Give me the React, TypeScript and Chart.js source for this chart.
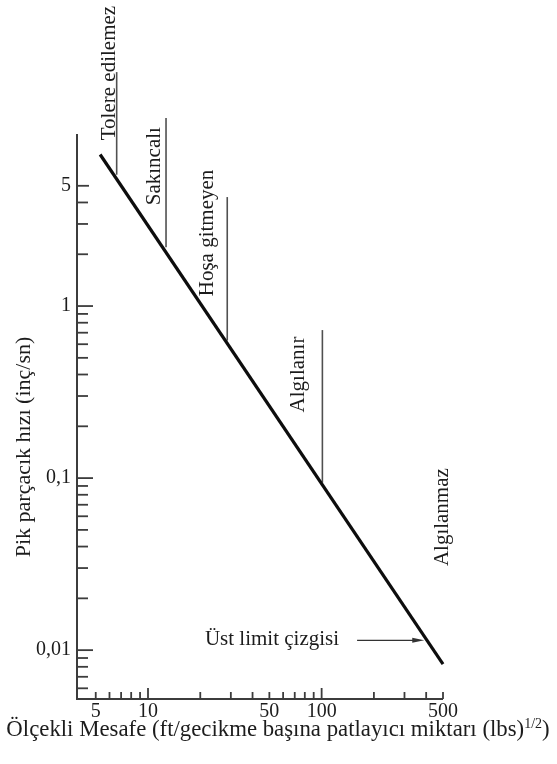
import { useEffect, useRef } from 'react';
import { Chart, registerables } from 'chart.js';

Chart.register(...registerables);

const SERIF = '"Liberation Serif", "Times New Roman", serif';
const INK = '#1c1c1c';
const AXIS = '#3c3c3c';
const MARKER = '#505050';

// Upper limit line: scaled distance vs. peak particle velocity
const limitX = [5.3, 500];
const limitY = [7.6, 0.0083];

// Threshold markers rising from the limit line
const zoneNames = ['Tolere edilemez', 'Sakıncalı', 'Hoşa gitmeyen', 'Algılanır'];
const zoneX = [6.6, 12.7, 28.6, 101];
const zoneBottom = [5.8, 2.2, 0.63, 0.094];
const zoneTop = [22.9, 12.4, 4.3, 0.725];
// text anchors: x = baseline of the rotated text, y = centre of the text
const zoneLabelX = [6.45, 11.7, 23.7, 79.3];
const zoneLabelY = [22.6, 6.5, 2.66, 0.4];

const belowName = 'Algılanmaz';
const belowLabelX = 535;
const belowLabelY = 0.0593;

const arrowName = 'Üst limit çizgisi';
const arrowFromX = 160;
const arrowToX = 390;
const arrowY = 0.0114;

// Axis ticks
const xTickValues = [5, 10, 50, 100, 500];
const xTickLabels = ['5', '10', '50', '100', '500'];
const yTickValues = [0.01, 0.1, 1, 5];
const yTickLabels = ['0,01', '0,1', '1', '5'];
const xMinorMarks = [5, 6, 7, 8, 9, 20, 30, 40, 50, 60, 70, 80, 90, 200, 300, 400, 500];
const xMajorMarks = [10, 100];
const yMinorMarks = [
  0.006, 0.007, 0.008, 0.009,
  0.02, 0.03, 0.04, 0.05, 0.06, 0.07, 0.08, 0.09,
  0.2, 0.3, 0.4, 0.5, 0.6, 0.7, 0.8, 0.9,
  2, 3, 4,
];
const yMidMarks = [5];
const yMajorMarks = [0.01, 0.1, 1];

const xRange = [3.9, 500];
const yRange = [0.0052, 10];

const yTitle = 'Pik parçacık hızı (inç/sn)';
const xTitleMain = 'Ölçekli Mesafe (ft/gecikme başına patlayıcı miktarı (lbs)';
const xTitleSup = '1/2';
const xTitleTail = ')';

const decorations = {
  id: 'decorations',
  afterDraw(chart: any) {
    const { ctx, chartArea: a, scales } = chart;
    const px = (v: number) => scales.x.getPixelForValue(v);
    const py = (v: number) => scales.y.getPixelForValue(v);
    ctx.save();

    // axis lines
    ctx.strokeStyle = AXIS;
    ctx.lineWidth = 2;
    ctx.beginPath();
    ctx.moveTo(a.left, a.top);
    ctx.lineTo(a.left, a.bottom);
    ctx.lineTo(px(xRange[1]), a.bottom);
    ctx.stroke();

    // inward tick marks
    ctx.lineWidth = 1.8;
    const xTick = (v: number, len: number) => {
      const x = px(v);
      ctx.beginPath();
      ctx.moveTo(x, a.bottom);
      ctx.lineTo(x, a.bottom - len);
      ctx.stroke();
    };
    const yTick = (v: number, len: number) => {
      const y = py(v);
      ctx.beginPath();
      ctx.moveTo(a.left, y);
      ctx.lineTo(a.left + len, y);
      ctx.stroke();
    };
    xMinorMarks.forEach((v) => xTick(v, 7));
    xMajorMarks.forEach((v) => xTick(v, 11));
    yMinorMarks.forEach((v) => yTick(v, 11));
    yMidMarks.forEach((v) => yTick(v, 12));
    yMajorMarks.forEach((v) => yTick(v, 16));

    // rotated zone labels
    ctx.fillStyle = INK;
    const rotated = (text: string, x: number, y: number, size: number) => {
      ctx.save();
      ctx.translate(x, y);
      ctx.rotate(-Math.PI / 2);
      ctx.font = `${size}px ${SERIF}`;
      ctx.textAlign = 'center';
      ctx.textBaseline = 'alphabetic';
      ctx.fillText(text, 0, 0);
      ctx.restore();
    };
    zoneNames.forEach((n, i) => rotated(n, px(zoneLabelX[i]), py(zoneLabelY[i]), 21));
    rotated(belowName, px(belowLabelX), py(belowLabelY), 21);

    // upper limit pointer
    const ay = py(arrowY);
    const ax0 = px(arrowFromX);
    const ax1 = px(arrowToX);
    ctx.strokeStyle = '#333';
    ctx.lineWidth = 1.2;
    ctx.beginPath();
    ctx.moveTo(ax0, ay);
    ctx.lineTo(ax1 - 6, ay);
    ctx.stroke();
    ctx.fillStyle = '#333';
    ctx.beginPath();
    ctx.moveTo(ax1, ay);
    ctx.lineTo(ax1 - 12, ay - 2.5);
    ctx.lineTo(ax1 - 12, ay + 2.5);
    ctx.closePath();
    ctx.fill();
    ctx.fillStyle = INK;
    ctx.font = `21px ${SERIF}`;
    ctx.textAlign = 'right';
    ctx.textBaseline = 'alphabetic';
    ctx.fillText(arrowName, ax0 - 18, ay + 5);

    // axis titles
    ctx.save();
    ctx.translate(24, 447);
    ctx.rotate(-Math.PI / 2);
    ctx.font = `22px ${SERIF}`;
    ctx.textAlign = 'center';
    ctx.textBaseline = 'middle';
    ctx.fillText(yTitle, 0, 0);
    ctx.restore();

    const titleSize = 22.8;
    ctx.textAlign = 'left';
    ctx.textBaseline = 'alphabetic';
    ctx.font = `${titleSize}px ${SERIF}`;
    const wMain = ctx.measureText(xTitleMain).width;
    const wTail = ctx.measureText(xTitleTail).width;
    ctx.font = `14px ${SERIF}`;
    const wSup = ctx.measureText(xTitleSup).width;
    const total = wMain + wSup + wTail;
    let tx = 278 - total / 2;
    const base = 736;
    ctx.font = `${titleSize}px ${SERIF}`;
    ctx.fillText(xTitleMain, tx, base);
    tx += wMain;
    ctx.font = `14px ${SERIF}`;
    ctx.fillText(xTitleSup, tx, base - 8);
    tx += wSup;
    ctx.font = `${titleSize}px ${SERIF}`;
    ctx.fillText(xTitleTail, tx, base);

    ctx.restore();
  },
};

export default function App() {
  const canvasRef = useRef<HTMLCanvasElement | null>(null);

  useEffect(() => {
    const canvas = canvasRef.current;
    if (!canvas) return;

    const verticals = zoneNames.map((name, i) => ({
      label: name,
      data: [
        { x: zoneX[i], y: zoneBottom[i] },
        { x: zoneX[i], y: zoneTop[i] },
      ],
      borderColor: MARKER,
      borderWidth: 1.6,
      pointRadius: 0,
      clip: false as any,
    }));

    const chart = new Chart(canvas, {
      type: 'line',
      data: {
        datasets: [
          {
            label: 'Üst limit',
            data: limitX.map((x, i) => ({ x, y: limitY[i] })),
            borderColor: '#0d0d0d',
            borderWidth: 3.2,
            pointRadius: 0,
            clip: false as any,
          },
          ...verticals,
        ],
      },
      options: {
        animation: false,
        responsive: false,
        devicePixelRatio: 1,
        layout: { padding: { left: 0, top: 134, right: 114, bottom: 0 } },
        plugins: {
          legend: { display: false },
          tooltip: { enabled: false },
        },
        scales: {
          x: {
            type: 'logarithmic',
            min: xRange[0],
            max: xRange[1],
            grid: { display: false, drawTicks: false },
            border: { display: false },
            afterBuildTicks: (s: any) => {
              s.ticks = xTickValues.map((value) => ({ value }));
            },
            afterFit: (s: any) => {
              s.height = 65;
            },
            ticks: {
              autoSkip: false,
              maxRotation: 0,
              padding: 1,
              color: INK,
              font: { family: SERIF, size: 20 },
              callback: (_v: any, i: number) => xTickLabels[i],
            },
          },
          y: {
            type: 'logarithmic',
            min: yRange[0],
            max: yRange[1],
            grid: { display: false, drawTicks: false },
            border: { display: false },
            afterBuildTicks: (s: any) => {
              s.ticks = yTickValues.map((value) => ({ value }));
            },
            afterFit: (s: any) => {
              s.width = 77;
            },
            ticks: {
              autoSkip: false,
              padding: 6,
              color: INK,
              font: { family: SERIF, size: 20 },
              callback: (_v: any, i: number) => yTickLabels[i],
            },
          },
        },
      },
      plugins: [decorations],
    });

    return () => chart.destroy();
  }, []);

  return (
    <div style={{ position: 'fixed', left: 0, top: 0, width: 557, height: 764, background: '#fff' }}>
      <canvas ref={canvasRef} width={557} height={764} style={{ display: 'block' }} />
    </div>
  );
}
